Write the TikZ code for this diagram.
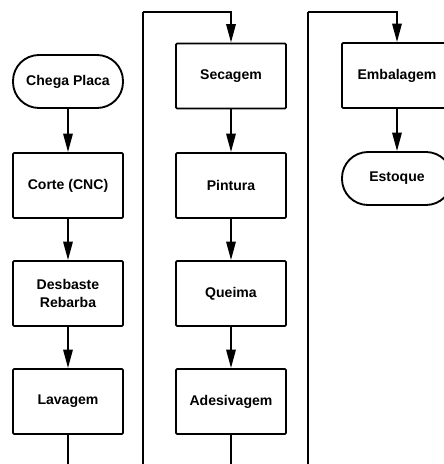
\documentclass[tikz,border=0pt]{standalone}
\usepackage{fontspec}
\setmainfont{Liberation Sans}
\usetikzlibrary{arrows.meta,positioning}
\definecolor{ink}{RGB}{0,0,0}
\tikzset{
  >={Triangle[length=5.5mm,width=2.8mm]},
  stage/.style={draw=ink,fill=white,line width=1.6pt,rounded corners=1pt,
    minimum width=3.3cm,minimum height=1.95cm,align=center,
    font=\fontsize{12}{15.5}\selectfont\bfseries},
  term/.style={stage,rounded corners=7.8mm,minimum height=1.59cm},
  flow/.style={->,line width=1.6pt,draw=ink},
  link/.style={line width=1.6pt,draw=ink},
}

\begin{document}
\begin{tikzpicture}[x=0.03cm,y=-0.03cm]
  \path[use as bounding box,clip] (0,0) rectangle (444,464);
  % first column
  \node[term]  (chega)    at (68,81.5)  {Chega Placa};
  \node[stage] (corte)    at (68,185.5) {Corte (CNC)};
  \node[stage] (desbaste) at (68,293.5) {Desbaste\\Rebarba};
  \node[stage] (lavagem)  at (68,401.5) {Lavagem};
  % second column
  \node[stage] (secagem)    at (231,76)    {Secagem};
  \node[stage] (pintura)    at (231,185.5) {Pintura};
  \node[stage] (queima)     at (231,293.5) {Queima};
  \node[stage] (adesivagem) at (231,401.5) {Adesivagem};
  % third column
  \node[stage] (embalagem) at (397,75.5)  {Embalagem};
  \node[term]  (estoque)   at (397,178.5) {Estoque};
  \foreach \a/\b in {chega/corte,corte/desbaste,desbaste/lavagem,
    secagem/pintura,pintura/queima,queima/adesivagem,embalagem/estoque}
    \draw[flow] (\a) -- (\b);
  % returns between columns
  \coordinate (low1) at (68,480);
  \coordinate (up1) at (143,12);
  \coordinate (low2) at (231,480);
  \coordinate (up2) at (308,12);
  \draw[link] (lavagem.south) -- (low1) -| (up1);
  \draw[flow] (up1) -| (secagem.north);
  \draw[link] (adesivagem.south) -- (low2) -| (up2);
  \draw[flow] (up2) -| (embalagem.north);
\end{tikzpicture}
\end{document}
